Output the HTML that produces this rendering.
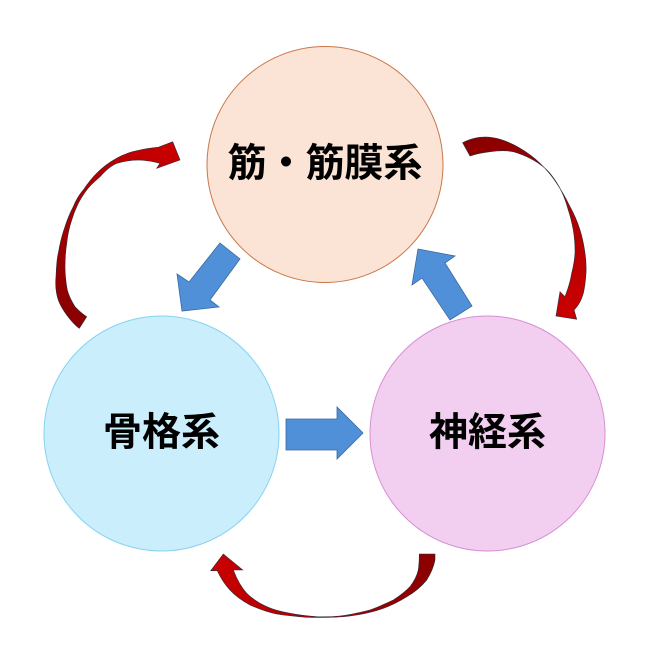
<!DOCTYPE html>
<html>
<head>
<meta charset="utf-8">
<style>
html,body{margin:0;padding:0;background:#ffffff;}
svg{display:block;}
text{font-family:"Liberation Sans","Noto Sans CJK JP",sans-serif;font-weight:bold;font-size:39px;fill:#000;}
</style>
</head>
<body>
<svg width="650" height="650" viewBox="0 0 650 650" xmlns="http://www.w3.org/2000/svg">
<defs>
<linearGradient id="gL" gradientUnits="userSpaceOnUse" x1="80" y1="325" x2="175" y2="150">
<stop offset="0" stop-color="#8a0000"/>
<stop offset="0.5" stop-color="#a80000"/>
<stop offset="1" stop-color="#c80000"/>
</linearGradient>
<linearGradient id="gR" gradientUnits="userSpaceOnUse" x1="465" y1="145" x2="565" y2="310">
<stop offset="0" stop-color="#8a0000"/>
<stop offset="0.5" stop-color="#a80000"/>
<stop offset="1" stop-color="#c80000"/>
</linearGradient>
<linearGradient id="gB" gradientUnits="userSpaceOnUse" x1="435" y1="580" x2="220" y2="570">
<stop offset="0" stop-color="#8a0000"/>
<stop offset="0.5" stop-color="#a80000"/>
<stop offset="1" stop-color="#c80000"/>
</linearGradient>
</defs>

<!-- circles -->
<circle cx="325" cy="164.5" r="118" fill="#fbe4d6" stroke="#c9774a" stroke-width="1"/>
<circle cx="161.5" cy="433.5" r="117.5" fill="#caeefb" stroke="#86d3ee" stroke-width="1"/>
<circle cx="487.5" cy="433.5" r="117.5" fill="#f2cff0" stroke="#d690d2" stroke-width="1"/>

<!-- labels -->
<text x="325" y="164" text-anchor="middle" dominant-baseline="central">筋・筋膜系</text>
<text x="161.5" y="433" text-anchor="middle" dominant-baseline="central">骨格系</text>
<text x="487.5" y="433" text-anchor="middle" dominant-baseline="central">神経系</text>

<!-- blue arrows -->
<polygon points="220,243 240,259 210,300 219,307 182,311 177,274 189,282" fill="#4f90d9" stroke="#3a6aa0" stroke-width="0.8"/>
<polygon points="418,249 455,256 445,263 472,306 450,320 422,278 412,285" fill="#4f90d9" stroke="#3a6aa0" stroke-width="0.8"/>
<polygon points="286,419 337,419 337,407 363,433 337,459 337,450 286,450" fill="#4f90d9" stroke="#3a6aa0" stroke-width="0.8"/>

<!-- left curved arrow -->
<path d="M79.3,328.3 C72,323 62,310 58.3,300 C55,290 55.5,282 56,276.7 C56.5,265 57,258 58.3,253.3 C60,243 62,235 65,226.7 C67.5,219 70,213 73.3,206.7 C76,200 79,195 83.3,190 C88,183 92,178 96.7,173.3 C103,167 110,162 116.7,158.3 C124,154 132,151.5 140,150 C147,148.5 153,147.8 158.3,147.3 L172.7,141.7 L180,160 L156.7,168.3 L160,163.3 C153,161.5 147,160.5 140,160 C131,160 124,161 116.7,163.3 C110,166 105,171 100,176.7 C95,181 90,185 86.7,190 C83,195 80.5,199 78.3,203.3 C75.5,209 73.5,214 71.7,220 C69,228 67.5,236 66.7,243.3 C65.5,251 65,259 65,266.7 C65,275 66,283 67.3,290 C69,297 72,302 75,306.7 C79,311 82.5,314 86.7,316.7 Z" fill="url(#gL)" stroke="#2b2b3a" stroke-width="0.6"/>

<!-- right curved arrow -->
<path d="M462.7,142.7 C468,140 474,138 480,137.3 C487,136.5 494,137.5 500,139.3 C507,141.5 514,144.5 520,148.3 C527,152.5 534,157.5 540,163.3 C546,169 552,176 556.7,183.3 C561.5,190.5 566,198.5 570,206.7 C574,214 577.5,222 580,230 C582.5,238 584,246 585,253.3 C586,260 586.3,267 586,273.3 C585.5,280 584.8,287 583.3,293.3 C581.5,300 578.5,305.5 574,310 L576.7,319.3 L556,316 L560,291.7 L565,296.7 C568,289 570.5,281 571.7,273.3 C573.5,266 574.7,259.5 575,253.3 C575.2,245 574.5,237.5 573.3,230 C572,223 570.5,216.5 568.3,210 C566.5,203.5 564.5,197.5 561.7,191.7 C558.5,185 554.5,179 550,173.3 C545,167.5 539.5,163.5 533.3,160 C527,156.5 520,153.5 513.3,151.7 C505.5,150 498,150.5 490,151.7 C483,152.5 476,154 470,156 Z" fill="url(#gR)" stroke="#2b2b3a" stroke-width="0.6"/>

<!-- bottom curved arrow -->
<path d="M435,554 L435,560 C433.5,567.5 430.5,574 426.7,580 C420.5,587.5 414,592.5 406.7,596.7 C399,601.5 391,605.5 383.3,608.3 C374.5,611.5 365.5,613.5 356.7,615 C347.5,616.5 338.5,617.3 330,617.3 C322,617.5 314,617.5 306.7,617.3 C296,616.5 286,615.5 276.7,614 C267,612 258,608.5 250,605 C242,600.5 235.5,596 230,590 C224.5,584 220.5,577.5 217.3,570.7 L210.7,570.7 L223.3,554 L242.7,570 L233.3,570 C236.5,578.5 240.5,586.5 246.7,593.3 C252.5,599 259.5,603.5 266.7,606.7 C274,610 282,612 290,613.3 C299,615 308,616 316.7,616.7 C324.5,617 332.5,616.7 340,616 C350,615 360,612.5 370,610 C378.5,607 386,603.5 393.3,600 C399.5,596 405.5,591.5 410,586.7 C414,581.5 417,576 418.3,570 C419,565 419.3,559.5 419.3,554 Z" fill="url(#gB)" stroke="#2b2b3a" stroke-width="0.6"/>
</svg>
</body>
</html>
